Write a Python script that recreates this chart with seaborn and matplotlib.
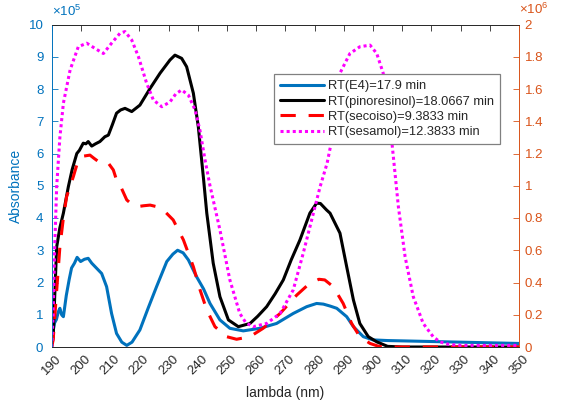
import matplotlib
matplotlib.use("Agg")
import matplotlib.pyplot as plt
import seaborn as sns
import pandas as pd
from matplotlib.ticker import FuncFormatter

# ---------------- data ----------------
# E4 on the left axis, values in units of 1e5
e4_nm = [190, 190.5, 191.0, 191.6, 192.3, 192.8, 193.4, 194.0, 195.0, 196.0,
         196.8, 197.8, 198.7, 199.9, 201.2, 202.5, 203.7, 205.4, 207.1, 208.8,
         210.5, 212.2, 214.0, 215.7, 217.5, 220.2, 223.0, 225.9, 229.4, 231.5,
         233.1, 235.0, 236.8, 239.6, 242.0, 244.2, 247.6, 251.0, 255.6, 261.3,
         267.0, 272.7, 277.3, 280.7, 283.0, 285.3, 287.6, 291.0, 293.3, 296.7,
         300.0, 305, 310, 320, 330, 340, 350]
e4_abs = [0.1, 0.5, 0.75, 0.85, 1.1, 1.2, 1.0, 0.94, 1.6, 2.1,
          2.45, 2.6, 2.78, 2.65, 2.72, 2.75, 2.6, 2.44, 2.28, 1.87,
          1.04, 0.42, 0.15, 0.05, 0.15, 0.53, 1.2, 1.87, 2.65, 2.88,
          3.0, 2.92, 2.7, 2.18, 1.8, 1.35, 0.84, 0.58, 0.5, 0.58,
          0.73, 1.04, 1.25, 1.35, 1.33, 1.27, 1.2, 0.94, 0.63, 0.32,
          0.22, 0.2, 0.19, 0.17, 0.15, 0.13, 0.11]

# right axis, values in units of 1e6
pino_nm = [190, 190.5, 191, 191.7, 192.8, 194, 195.7, 197, 198.6, 199.5,
           200.8, 201.7, 202.5, 203.7, 205, 206.5, 208.2, 209.4, 210.8, 212.2,
           213.6, 215.1, 217.4, 220.2, 223.7, 227.1, 230.5, 232.2, 234.5, 236.2,
           238.5, 240.2, 242, 243.1, 245.3, 247.6, 250.5, 253.9, 257.9, 260.5,
           263.6, 266.5, 269.3, 272, 275, 278.4, 280.7, 282, 284.1, 285.3,
           288.7, 291, 293.3, 295.5, 298.4, 301.3, 305, 310, 350]
pino_abs = [0, 0.064, 0.3, 0.62, 0.74, 0.83, 0.994, 1.1, 1.2, 1.22,
            1.264, 1.26, 1.274, 1.246, 1.26, 1.274, 1.304, 1.314, 1.38, 1.45,
            1.47, 1.48, 1.46, 1.5, 1.604, 1.698, 1.78, 1.81, 1.79, 1.738,
            1.574, 1.366, 1.04, 0.83, 0.52, 0.312, 0.168, 0.126, 0.146, 0.19,
            0.25, 0.33, 0.416, 0.54, 0.664, 0.83, 0.892, 0.89, 0.85, 0.83,
            0.706, 0.498, 0.292, 0.146, 0.064, 0.032, 0.004, 0, 0]

seco_nm = [190.0, 190.5, 191.5, 192.8, 194.0, 195.1, 197.4, 199.1, 201.0, 203.1,
           204.5, 206.0, 207.5, 209.4, 211.1, 212.2, 213.4, 215.7, 217.5, 219.1,
           221.5, 223.7, 226.0, 228.2, 231.6, 235.1, 238.5, 240.8, 243.1, 245.9,
           249.9, 253.3, 257.9, 262.4, 268.2, 273.9, 278.4, 281.5, 283.5, 286.4,
           289.8, 292.7, 295.5, 299.0, 302.0, 306.0, 350.0]
seco_abs = [0, 0.044, 0.3, 0.62, 0.8, 0.932, 1.056, 1.16, 1.184, 1.19,
            1.17, 1.15, 1.136, 1.14, 1.098, 1.036, 1.004, 0.912, 0.884, 0.87,
            0.876, 0.88, 0.87, 0.85, 0.788, 0.664, 0.498, 0.354, 0.23, 0.126,
            0.064, 0.048, 0.064, 0.116, 0.208, 0.322, 0.396, 0.42, 0.416, 0.374,
            0.27, 0.146, 0.064, 0.022, 0.004, 0, 0]

sesa_nm = [190.0, 190.5, 191.0, 191.7, 192.8, 194.0, 196.3, 199.1, 202.0, 204.8,
           207.7, 210.5, 213.4, 215.1, 217.4, 219.7, 222.5, 224.8, 227.7, 230.5,
           232.5, 234.5, 236.8, 239.1, 240.8, 242.5, 244.2, 247.6, 251.0, 254.4,
           256.5, 259.0, 263.6, 268.2, 272.7, 276.1, 279.6, 281.9, 284.3, 285.9,
           288.7, 292.1, 295.5, 299.0, 301.3, 303.5, 306.4, 308.7, 311.0, 313.8,
           317.2, 320.6, 322.9, 326.0, 330.0, 350.0]
sesa_abs = [0, 0.2, 0.6, 0.994, 1.3, 1.512, 1.718, 1.862, 1.884, 1.852,
            1.82, 1.884, 1.946, 1.956, 1.904, 1.8, 1.636, 1.532, 1.49, 1.52,
            1.57, 1.594, 1.562, 1.47, 1.34, 1.16, 1.0, 0.726, 0.416, 0.208,
            0.15, 0.126, 0.146, 0.208, 0.354, 0.58, 0.83, 0.994, 1.14, 1.284,
            1.698, 1.82, 1.862, 1.872, 1.82, 1.698, 1.284, 0.87, 0.56, 0.312,
            0.146, 0.064, 0.032, 0.016, 0.01, 0.01]

labels = ["RT(E4)=17.9 min", "RT(pinoresinol)=18.0667 min",
          "RT(secoiso)=9.3833 min", "RT(sesamol)=12.3833 min"]
x_ticks = list(range(190, 351, 10))
left_ticks = list(range(0, 11))
right_ticks = [0, 0.2, 0.4, 0.6, 0.8, 1, 1.2, 1.4, 1.6, 1.8, 2]

# ---------------- style ----------------
sns.set_style("white")
plt.rcParams["font.family"] = ["Liberation Sans", "DejaVu Sans"]
plt.rcParams["mathtext.fontset"] = "custom"
plt.rcParams["mathtext.rm"] = "Liberation Sans"
plt.rcParams["mathtext.it"] = "Liberation Sans"

BLUE = "#0072BD"
ORANGE = "#D95319"
AXC = "#262626"

fig = plt.figure(figsize=(5.61, 4.08), dpi=100)
ax = fig.add_axes([51.7 / 561, 61 / 408, 467.3 / 561, 322.5 / 408])
ax2 = ax.twinx()

df_e4 = pd.DataFrame({"nm": e4_nm, "v": e4_abs})
df_pi = pd.DataFrame({"nm": pino_nm, "v": pino_abs})
df_se = pd.DataFrame({"nm": seco_nm, "v": seco_abs})
df_ss = pd.DataFrame({"nm": sesa_nm, "v": sesa_abs})

sns.lineplot(data=df_e4, x="nm", y="v", ax=ax, color=BLUE, lw=2.2,
             estimator=None, sort=False, label=labels[0], legend=False)
sns.lineplot(data=df_pi, x="nm", y="v", ax=ax2, color="black", lw=2.2,
             estimator=None, sort=False, label=labels[1], legend=False)
sns.lineplot(data=df_se, x="nm", y="v", ax=ax2, color="#FF0000", lw=2.2,
             estimator=None, sort=False, label=labels[2], legend=False)
sns.lineplot(data=df_ss, x="nm", y="v", ax=ax2, color="#FF00FF", lw=2.2,
             estimator=None, sort=False, label=labels[3], legend=False)
ax2.lines[1].set_dashes((5.0, 4.2))
ax2.lines[2].set_dashes((1.0, 1.0))

for l in ax.lines + ax2.lines:
    l.set_solid_joinstyle("round")

ax.set_xlim(190, 350)
ax.set_ylim(0, 10)
ax2.set_ylim(0, 2)
ax.set_xticks(x_ticks)
ax.set_yticks(left_ticks)
ax2.set_yticks(right_ticks)
ax2.yaxis.set_major_formatter(FuncFormatter(lambda v, p: f"{v:g}"))

ax.set_xlabel("lambda (nm)", fontsize=10, color=AXC, labelpad=7)
ax.set_ylabel("Absorbance", fontsize=10, color=BLUE, labelpad=4)
ax2.set_ylabel("")

ax.tick_params(axis="x", direction="in", length=4, width=0.6, colors=AXC,
               labelsize=9.5, pad=4, top=True, labelrotation=45)
ax.tick_params(axis="y", direction="in", length=4, width=0.6, colors=BLUE,
               labelsize=9.5, pad=6)
ax2.tick_params(axis="y", direction="in", length=4, width=0.6, colors=ORANGE,
                labelsize=9.5, pad=4)
for t in ax.get_xticklabels():
    t.set_ha("center")

for a in (ax, ax2):
    a.spines["top"].set_color(AXC)
    a.spines["bottom"].set_color(AXC)
    for s in a.spines.values():
        s.set_linewidth(0.6)
    a.spines["left"].set_color(BLUE)
    a.spines["right"].set_color(ORANGE)

ax.text(0.0, 1.018, r"$\times10^{5}$", transform=ax.transAxes, ha="left",
        va="bottom", color=BLUE, fontsize=9.5)
ax2.text(1.0, 1.022, r"$\times10^{6}$", transform=ax2.transAxes, ha="left",
         va="bottom", color=ORANGE, fontsize=9.5)

handles = ax.lines[:1] + ax2.lines[:3]
leg = ax2.legend(handles, labels, loc="upper left",
                 bbox_to_anchor=(0.476, 0.845), fontsize=9.3,
                 frameon=True, fancybox=False, framealpha=1,
                 edgecolor="#808080", handlelength=3.4, handletextpad=0.3,
                 labelspacing=0.25, borderpad=0.45, borderaxespad=0)
leg.get_frame().set_linewidth(0.9)

fig.savefig("out.png", dpi=100)
